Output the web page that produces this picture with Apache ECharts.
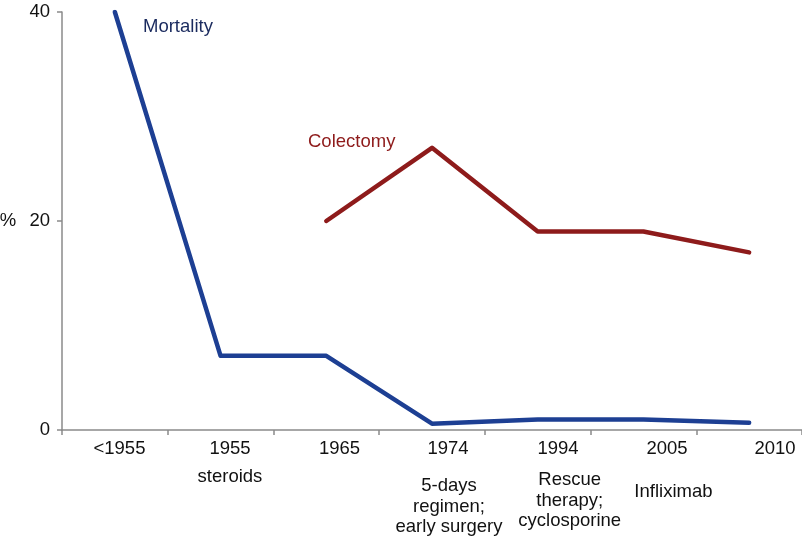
<!DOCTYPE html>
<html>
<head>
<meta charset="utf-8">
<script src="https://cdn.jsdelivr.net/npm/echarts@6/dist/echarts.min.js"></script>
<style>html,body{margin:0;padding:0;background:#fff}#c{width:802px;height:540px}</style>
</head>
<body>
<div id="c"></div>
<script>
const categories = ['<1955', '1955', '1965', '1974', '1994', '2005', '2010'];
const subLabels = ['', 'steroids', '', '5-days\nregimen;\nearly surgery', 'Rescue\ntherapy;\ncyclosporine', 'Infliximab', ''];
const seriesNames = ['Mortality', 'Colectomy'];
const mortality = [40, 7.1, 7.1, 0.6, 1.0, 1.0, 0.7];
const colectomy = [null, null, 20, 27, 19, 19, 17];
const yTicks = { min: 0, max: 40, interval: 20 };

// label placement styling (horizontal nudge and vertical gap per category label)
const yearNudge = [4.6, 9.4, 13.2, 16, 20.3, 23.6, 25.9];
const subNudge = [0, 9.4, 0, 17, 32, 30, 0];
const subGap = [3, 3, 3, 12, 6, 18, 3];

const FONT = 'Liberation Sans, Arial, sans-serif';
const FS = 18.5;
const rich = {};
categories.forEach((c, i) => {
  rich['y' + i] = { fontFamily: FONT, fontSize: FS, color: '#111', lineHeight: 30, padding: [0, 0, 0, 2 * yearNudge[i]] };
  rich['g' + i] = { fontFamily: FONT, fontSize: 2, lineHeight: subGap[i] };
  rich['s' + i] = { fontFamily: FONT, fontSize: FS, color: '#111', lineHeight: 20.5, padding: [0, 0, 0, 2 * subNudge[i]] };
});

const chart = echarts.init(document.getElementById('c'));
chart.setOption({
  animation: false,
  grid: { left: 62, right: 0, top: 12, bottom: 110, outerBoundsMode: 'none', containLabel: false },
  xAxis: {
    type: 'category', data: categories, boundaryGap: true,
    axisLine: { lineStyle: { color: '#8a8a8a', width: 1.5 } },
    axisTick: { show: true, length: 5, lineStyle: { color: '#8a8a8a', width: 1.5 } },
    axisLabel: {
      interval: 0, margin: 4, hideOverlap: false,
      formatter: function (v, i) {
        const s = subLabels[i];
        let out = '{y' + i + '|' + v + '}';
        if (s) {
          out += '\n{g' + i + '| }\n' + s.split('\n').map(t => '{s' + i + '|' + t + '}').join('\n');
        }
        return out;
      },
      rich: rich
    }
  },
  yAxis: {
    type: 'value', min: yTicks.min, max: yTicks.max, interval: yTicks.interval,
    name: '%', nameLocation: 'middle', nameRotate: 0, nameGap: 54,
    nameTextStyle: { fontFamily: FONT, fontSize: FS, color: '#111', align: 'center' },
    splitLine: { show: false },
    axisLine: { show: true, lineStyle: { color: '#8a8a8a', width: 1.5 } },
    axisTick: { show: true, length: 5, lineStyle: { color: '#8a8a8a', width: 1.5 } },
    axisLabel: { margin: 12, fontFamily: FONT, fontSize: FS, color: '#111' }
  },
  series: [
    {
      name: seriesNames[0], type: 'line', data: mortality,
      symbol: 'none', lineStyle: { color: '#1d3f93', width: 4.5, cap: 'round', join: 'round' }
    },
    {
      name: seriesNames[1], type: 'line', data: colectomy,
      symbol: 'none', lineStyle: { color: '#8e1b1b', width: 4.5, cap: 'round', join: 'round' }
    }
  ],
  graphic: [
    { type: 'text', left: 143, top: 17, style: { text: seriesNames[0], fontFamily: FONT, fontSize: FS, fill: '#1a2a5e' } },
    { type: 'text', left: 308, top: 132, style: { text: seriesNames[1], fontFamily: FONT, fontSize: FS, fill: '#8e1b1b' } }
  ]
});
</script>
</body>
</html>
